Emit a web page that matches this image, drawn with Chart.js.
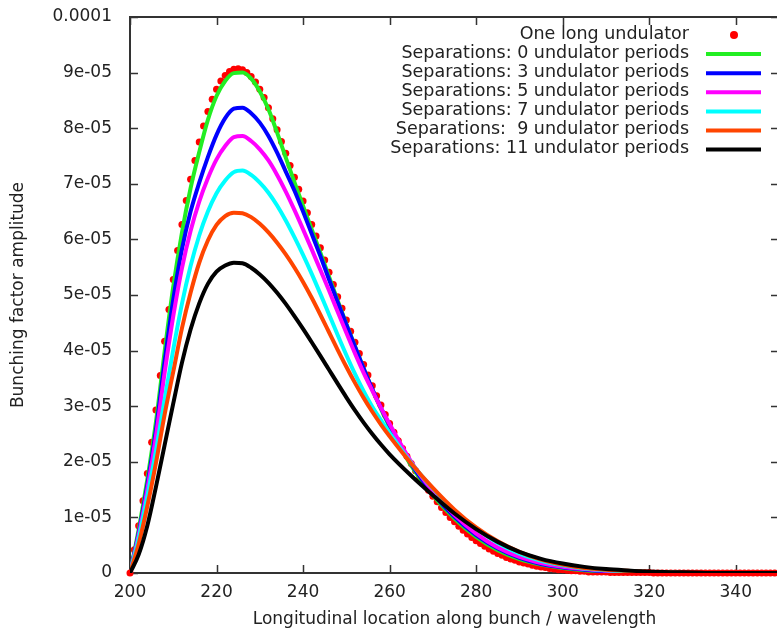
<!DOCTYPE html>
<html>
<head>
<meta charset="utf-8">
<script src="https://cdn.jsdelivr.net/npm/chart.js@4"></script>
<style>
    html, body { margin: 0; padding: 0; overflow: hidden; background: #fff; }
    canvas { display: block; }
</style>
</head>
<body>
<canvas id="myChart" width="783" height="633"></canvas>
<script>
// Values are in units of 1e-5 (bunching factor amplitude)
let xLine = [200, 202, 204, 206, 208, 210, 212, 214, 216, 218, 220, 222, 224, 226, 228, 230,
    232, 234, 236, 238, 240, 242, 244, 246, 248, 250, 252, 254, 256, 258, 260,
    265, 270, 275, 280, 285, 290, 295, 300, 305, 310, 315, 320, 325, 330, 335, 340, 345, 350];

let sep0 = [0, 0.78, 1.68, 2.72, 3.98, 5.15, 6.12, 6.92, 7.57, 8.15, 8.58, 8.85, 8.99, 9.0, 8.89, 8.66,
    8.34, 7.92, 7.47, 7.03, 6.6, 6.18, 5.76, 5.33, 4.9, 4.48, 4.08, 3.68, 3.3, 2.95, 2.63,
    1.93, 1.4, 0.98, 0.65, 0.41, 0.25, 0.15, 0.09, 0.05, 0.03, 0.02, 0.01, 0, 0, 0, 0, 0, 0];
let sep3 = [0, 0.72, 1.58, 2.58, 3.8, 4.92, 5.82, 6.5, 7.02, 7.48, 7.88, 8.18, 8.35, 8.37, 8.27, 8.1,
    7.86, 7.56, 7.22, 6.88, 6.5, 6.1, 5.7, 5.28, 4.87, 4.47, 4.07, 3.68, 3.31, 2.97, 2.66,
    1.96, 1.43, 1.01, 0.68, 0.44, 0.27, 0.16, 0.1, 0.06, 0.03, 0.02, 0.01, 0, 0, 0, 0, 0, 0];
let sep5 = [0, 0.68, 1.5, 2.46, 3.6, 4.62, 5.48, 6.15, 6.68, 7.1, 7.44, 7.68, 7.84, 7.86, 7.77, 7.62,
    7.42, 7.16, 6.86, 6.53, 6.18, 5.82, 5.45, 5.08, 4.7, 4.32, 3.95, 3.6, 3.28, 2.97, 2.68,
    2.0, 1.47, 1.04, 0.71, 0.46, 0.29, 0.18, 0.11, 0.07, 0.04, 0.02, 0.01, 0, 0, 0, 0, 0, 0];
let sep7 = [0, 0.62, 1.38, 2.2, 3.12, 4.02, 4.84, 5.52, 6.07, 6.5, 6.83, 7.06, 7.21, 7.24, 7.16, 7.02,
    6.84, 6.61, 6.34, 6.04, 5.72, 5.38, 5.02, 4.65, 4.28, 3.92, 3.58, 3.27, 2.99, 2.75, 2.52,
    1.98, 1.52, 1.12, 0.8, 0.54, 0.35, 0.22, 0.14, 0.08, 0.05, 0.03, 0.02, 0.01, 0, 0, 0, 0, 0];
let sep9 = [0, 0.52, 1.2, 1.98, 2.85, 3.62, 4.4, 5.04, 5.58, 5.98, 6.26, 6.42, 6.48, 6.47, 6.4, 6.28,
    6.125, 5.94, 5.73, 5.495, 5.235, 4.95, 4.645, 4.33, 4.015, 3.71, 3.42, 3.15, 2.9, 2.67, 2.46,
    1.97, 1.53, 1.14, 0.82, 0.57, 0.38, 0.24, 0.15, 0.09, 0.06, 0.04, 0.02, 0.01, 0, 0, 0, 0, 0];
let sep11 = [0, 0.33, 0.85, 1.55, 2.3, 3.05, 3.78, 4.38, 4.85, 5.2, 5.42, 5.53, 5.58, 5.57, 5.49, 5.37,
    5.22, 5.04, 4.84, 4.62, 4.39, 4.15, 3.905, 3.655, 3.405, 3.16, 2.925, 2.705, 2.5, 2.31, 2.135,
    1.75, 1.4, 1.07, 0.79, 0.56, 0.38, 0.255, 0.17, 0.11, 0.07, 0.045, 0.025, 0.015, 0.01, 0, 0, 0, 0];

// One long undulator, one sample per wavelength from 200 to 350
let longUndulator = [0, 0.42, 0.85, 1.3, 1.79, 2.35, 2.93, 3.55, 4.17, 4.74,
    5.28, 5.8, 6.27, 6.7, 7.08, 7.42, 7.75, 8.04, 8.3, 8.52,
    8.7, 8.85, 8.95, 9.02, 9.06, 9.07, 9.05, 9.0, 8.93, 8.83,
    8.7, 8.55, 8.37, 8.17, 7.97, 7.76, 7.55, 7.33, 7.12, 6.9,
    6.69, 6.48, 6.27, 6.06, 5.85, 5.63, 5.41, 5.19, 4.97, 4.76,
    4.55, 4.35, 4.15, 3.95, 3.75, 3.56, 3.37, 3.19, 3.02, 2.85,
    2.69, 2.53, 2.38, 2.24, 2.1, 1.97, 1.84, 1.72, 1.6, 1.49,
    1.38, 1.28, 1.18, 1.09, 1.0, 0.92, 0.84, 0.77, 0.7, 0.64,
    0.58, 0.53, 0.48, 0.43, 0.39, 0.35, 0.32, 0.28, 0.25, 0.23,
    0.2, 0.18, 0.16, 0.14, 0.12, 0.11, 0.1, 0.08, 0.07, 0.06,
    0.06, 0.05, 0.04, 0.04, 0.03, 0.03, 0.02, 0.02, 0.02, 0.02,
    0.02, 0.01, 0.01, 0.01, 0.01, 0.01, 0.01, 0.01, 0.01, 0.01,
    0.01, 0, 0, 0, 0, 0, 0, 0, 0, 0,
    0, 0, 0, 0, 0, 0, 0, 0, 0, 0,
    0, 0, 0, 0, 0, 0, 0, 0, 0, 0, 0];

let labels = ["One long undulator",
    "Separations: 0 undulator periods",
    "Separations: 3 undulator periods",
    "Separations: 5 undulator periods",
    "Separations: 7 undulator periods",
    "Separations:  9 undulator periods",
    "Separations: 11 undulator periods"];
let colors = ["#ff0000", "#22ee22", "#0000ff", "#ff00ff", "#00ffff", "#ff4500", "#000000"];

let xTicks = [200, 220, 240, 260, 280, 300, 320, 340];
let yTickLabels = ["0", "1e-05", "2e-05", "3e-05", "4e-05", "5e-05", "6e-05", "7e-05", "8e-05", "9e-05", "0.0001"];

let ctx = document.getElementById("myChart");
Chart.defaults.font.family = "'DejaVu Sans', sans-serif";
Chart.defaults.font.size = 17;
Chart.defaults.color = "#222";

function toPoints(xs, ys) {
    return ys.map((v, i) => ({ x: xs[i], y: v * 1e-5 }));
}

// Frame with inward ticks on all four sides, like gnuplot
const framePlugin = {
    id: "frame",
    beforeDatasetsDraw(chart) {
        const c = chart.ctx;
        const a = chart.chartArea;
        const sx = chart.scales.x;
        const sy = chart.scales.y;
        c.save();
        c.strokeStyle = "#333";
        c.lineWidth = 1.5;
        c.beginPath();
        xTicks.forEach((v) => {
            let px = Math.round(sx.getPixelForValue(v)) + 0.5;
            c.moveTo(px, a.bottom); c.lineTo(px, a.bottom - 8);
            c.moveTo(px, a.top); c.lineTo(px, a.top + 8);
        });
        yTickLabels.forEach((t, i) => {
            let py = Math.round(sy.getPixelForValue(i * 1e-5)) + 0.5;
            c.moveTo(a.left, py); c.lineTo(a.left + 8, py);
            c.moveTo(a.right, py); c.lineTo(a.right - 8, py);
        });
        c.stroke();
        c.lineWidth = 2;
        c.strokeRect(a.left, a.top, a.right - a.left, a.bottom - a.top);
        c.restore();
    }
};

// Legend: text right aligned, sample to the right
const legendPlugin = {
    id: "gnuLegend",
    afterDraw(chart) {
        const c = chart.ctx;
        c.save();
        c.font = "17.5px 'DejaVu Sans', sans-serif";
        c.textAlign = "right";
        c.textBaseline = "middle";
        chart.data.datasets.forEach((ds, i) => {
            let y = 34 + i * 19.1;
            c.fillStyle = "#222";
            c.fillText(ds.label, 689, y);
            if (ds.showLine === false) {
                c.fillStyle = ds.pointBackgroundColor;
                c.beginPath();
                c.arc(734, y + 1, 4, 0, Math.PI * 2);
                c.fill();
            } else {
                c.strokeStyle = ds.borderColor;
                c.lineWidth = 4;
                c.beginPath();
                c.moveTo(706, y + 1);
                c.lineTo(761, y + 1);
                c.stroke();
            }
        });
        c.restore();
    }
};

let seriesValues = [sep0, sep3, sep5, sep7, sep9, sep11];
let datasets = [{
    label: labels[0],
    data: longUndulator.map((v, i) => ({ x: 200 + i, y: v * 1e-5 })),
    showLine: false,
    pointRadius: 3.5,
    pointBackgroundColor: colors[0],
    pointBorderWidth: 0,
    clip: false,
    order: 6
}];
seriesValues.forEach((vals, i) => {
    datasets.push({
        label: labels[i + 1],
        data: toPoints(xLine, vals),
        borderColor: colors[i + 1],
        borderWidth: 4,
        pointRadius: 0,
        cubicInterpolationMode: "monotone",
        fill: false,
        order: 5 - i
    });
});

new Chart(ctx, {
    type: "line",
    data: { datasets },
    options: {
        responsive: false,
        animation: false,
        layout: { padding: { top: 17, right: 2, left: 0, bottom: 0 } },
        plugins: {
            legend: { display: false },
            tooltip: { enabled: false }
        },
        scales: {
            x: {
                type: "linear",
                min: 200,
                max: 350,
                grid: { display: false, drawTicks: false },
                border: { display: false },
                afterBuildTicks: (scale) => { scale.ticks = xTicks.map((v) => ({ value: v })); },
                afterFit: (scale) => {
                    scale.height = 60;
                    scale.paddingLeft = 0;
                    scale.paddingRight = 0;
                },
                ticks: { padding: 9, maxRotation: 0, callback: (v) => String(v) },
                title: {
                    display: true,
                    text: "Longitudinal location along bunch / wavelength",
                    padding: { top: 0, bottom: 3 }
                }
            },
            y: {
                min: 0,
                max: 0.0001,
                grid: { display: false, drawTicks: false },
                border: { display: false },
                afterBuildTicks: (scale) => { scale.ticks = yTickLabels.map((t, i) => ({ value: i * 1e-5 })); },
                afterFit: (scale) => {
                    scale.width = 130;
                    scale.paddingTop = 0;
                    scale.paddingBottom = 0;
                },
                ticks: {
                    padding: 18,
                    callback: (v) => yTickLabels[Math.round(v / 1e-5)]
                },
                title: {
                    display: true,
                    text: "Bunching factor amplitude",
                    padding: { top: 8, bottom: 0 }
                }
            }
        }
    },
    plugins: [framePlugin, legendPlugin]
});
</script>
</body>
</html>
